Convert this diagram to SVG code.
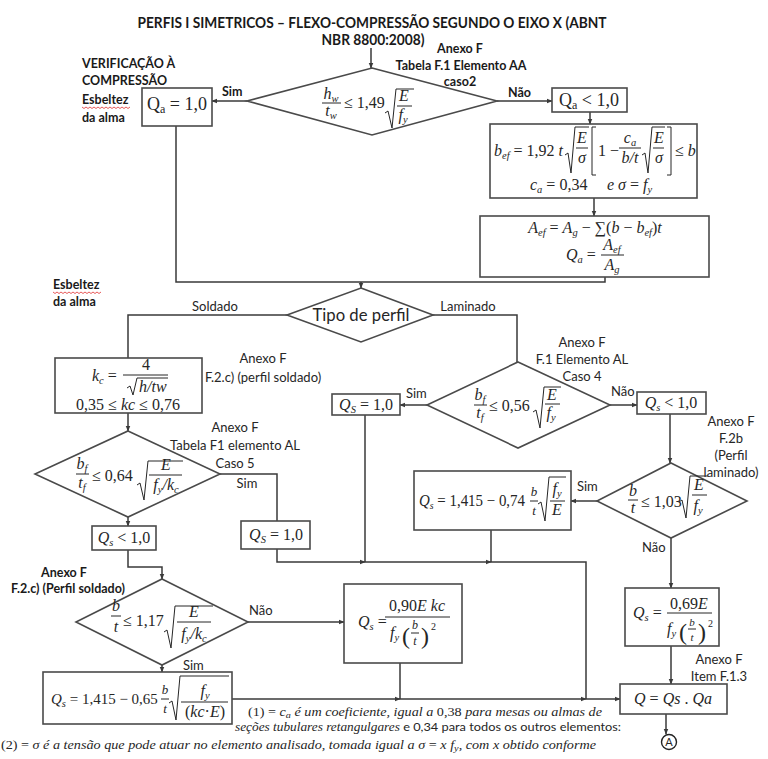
<svg xmlns="http://www.w3.org/2000/svg" width="768" height="759" viewBox="0 0 768 759">
<defs>
<style>
.bx{fill:#fff;stroke:#4a4a4a;stroke-width:1.6}
.cn{fill:none;stroke:#3a3a3a;stroke-width:1.5}
.ca{fill:none;stroke:#3a3a3a;stroke-width:1.5;marker-end:url(#ah)}
.ml{fill:none;stroke:#262626;stroke-width:1}
.lb{font-family:Lato,"Liberation Sans",sans-serif;font-size:13px;fill:#262626}
.lbb{font-family:Lato,"Liberation Sans",sans-serif;font-size:12.5px;font-weight:700;fill:#1a1a1a}
.mi{font-family:"Liberation Serif",serif;font-style:italic;font-size:16px;fill:#262626}
.mn{font-family:"Liberation Serif",serif;font-size:16px;fill:#262626}
.s{font-size:10.5px}
.fn{font-family:"Liberation Serif",serif;font-style:italic;font-size:12.5px;fill:#262626}
.up{font-style:normal}
.sq{fill:none;stroke:#e03030;stroke-width:0.8}
</style>
<marker id="ah" viewBox="0 0 10 10" refX="9" refY="5" markerWidth="6" markerHeight="6" orient="auto" markerUnits="userSpaceOnUse"><path d="M0,1 L10,5 L0,9 z" fill="#3a3a3a"/></marker>
</defs>
<rect width="768" height="759" fill="#fff"/>

<g id="title">
<text class="lbb" x="372" y="28" text-anchor="middle" style="font-size:15px" textLength="469" lengthAdjust="spacingAndGlyphs">PERFIS I SIMETRICOS – FLEXO-COMPRESSÃO SEGUNDO O EIXO X (ABNT</text>
<text class="lbb" x="373" y="45" text-anchor="middle" style="font-size:15px" textLength="103" lengthAdjust="spacingAndGlyphs">NBR 8800:2008)</text>
</g>

<g id="connectors">
<line class="ca" x1="371" y1="48" x2="371" y2="68"/>
<line class="ca" x1="247" y1="101" x2="212" y2="101"/>
<line class="ca" x1="497" y1="101" x2="552" y2="101"/>
<line class="ca" x1="590" y1="112" x2="590" y2="124"/>
<line class="ca" x1="594" y1="198" x2="594" y2="216"/>
<polyline class="cn" points="176,126 176,282 605,282 605,277"/>
<line class="ca" x1="361" y1="282" x2="361" y2="288"/>
<polyline class="cn" points="287,315 128,315 128,358"/>
<polyline class="cn" points="433,315 517,315 517,362"/>
<line class="ca" x1="427" y1="405" x2="400" y2="405"/>
<line class="ca" x1="610" y1="405" x2="637" y2="405"/>
<line class="ca" x1="670" y1="414" x2="670" y2="463"/>
<line class="ca" x1="597" y1="501" x2="571" y2="501"/>
<line class="ca" x1="671" y1="538" x2="671" y2="588"/>
<line class="ca" x1="671" y1="646" x2="671" y2="684"/>
<line class="ca" x1="666" y1="714" x2="666" y2="734"/>
<line class="ca" x1="128" y1="413" x2="128" y2="431"/>
<polyline class="cn" points="220,474 277,474 277,521"/>
<line class="ca" x1="128" y1="517" x2="128" y2="526"/>
<polyline class="ca" points="128,550 128,567 162,567 162,579"/>
<line class="ca" x1="248" y1="622" x2="344" y2="622"/>
<line class="ca" x1="162" y1="665" x2="162" y2="672"/>
<line class="cn" x1="365" y1="415" x2="365" y2="562"/>
<line class="cn" x1="491" y1="530" x2="491" y2="562"/>
<polyline class="ca" points="277,549 277,562 365,562"/>
<line class="ca" x1="365" y1="562" x2="491" y2="562"/>
<polyline class="cn" points="491,562 586,562 586,699"/>
<line class="cn" x1="400" y1="663" x2="400" y2="699"/>
<line class="ca" x1="232" y1="699" x2="400" y2="699"/>
<line class="ca" x1="400" y1="699" x2="586" y2="699"/>
<line class="ca" x1="586" y1="699" x2="620" y2="699"/>
</g>

<g id="side-labels">
<text class="lbb" x="82" y="68">VERIFICAÇÃO À</text>
<text class="lbb" x="82" y="85">COMPRESSÃO</text>
<text class="lbb" x="82" y="104">Esbeltez</text>
<path class="sq" d="M82,107 l2,1.5 l2,-1.5 l2,1.5 l2,-1.5 l2,1.5 l2,-1.5 l2,1.5 l2,-1.5 l2,1.5 l2,-1.5 l2,1.5 l2,-1.5 l2,1.5 l2,-1.5 l2,1.5 l2,-1.5 l2,1.5 l2,-1.5 l2,1.5 l2,-1.5 l2,1.5 l2,-1.5 l2,1.5 l2,-1.5"/>
<text class="lbb" x="82" y="122">da alma</text>
<text class="lbb" x="53" y="289">Esbeltez</text>
<path class="sq" d="M53,292 l2,1.5 l2,-1.5 l2,1.5 l2,-1.5 l2,1.5 l2,-1.5 l2,1.5 l2,-1.5 l2,1.5 l2,-1.5 l2,1.5 l2,-1.5 l2,1.5 l2,-1.5 l2,1.5 l2,-1.5 l2,1.5 l2,-1.5 l2,1.5 l2,-1.5 l2,1.5 l2,-1.5 l2,1.5 l2,-1.5"/>
<text class="lbb" x="53" y="306">da alma</text>
</g>

<g id="d1">
<polygon class="bx" points="372,68 497,101 372,135 247,101"/>
<text class="mi" x="331" y="99" text-anchor="middle">h<tspan class="s" dy="3">w</tspan></text>
<line class="ml" x1="322" y1="103" x2="341" y2="103"/>
<text class="mi" x="331" y="116" text-anchor="middle">t<tspan class="s" dy="3">w</tspan></text>
<text class="mn" x="344" y="108">≤ 1,49</text>
<polyline class="ml" points="385,113 388,111 392,128 396,89 414,89"/>
<text class="mi" x="404" y="101" text-anchor="middle">E</text>
<line class="ml" x1="397" y1="106" x2="412" y2="106"/>
<text class="mi" x="403" y="120" text-anchor="middle">f<tspan class="s" dy="3">y</tspan></text>
</g>
<g id="d1-labels">
<text class="lbb" x="460" y="53" text-anchor="middle">Anexo F</text>
<text class="lbb" x="461" y="70" text-anchor="middle">Tabela F.1 Elemento AA</text>
<text class="lbb" x="460" y="86" text-anchor="middle">caso2</text>
<text class="lbb" x="222" y="96">Sim</text>
<text class="lbb" x="508" y="97">Não</text>
</g>

<g id="qa1">
<rect class="bx" x="142" y="88" width="70" height="38"/>
<text class="mn" x="177" y="110" text-anchor="middle" style="font-size:18px">Q<tspan font-size="12" dy="3">a</tspan><tspan dy="-3"> = 1,0</tspan></text>
</g>

<g id="qa2">
<rect class="bx" x="552" y="88" width="75" height="24"/>
<text class="mn" x="589" y="106" text-anchor="middle" style="font-size:18px">Q<tspan font-size="12" dy="3">a</tspan><tspan dy="-3"> &lt; 1,0</tspan></text>
</g>

<g id="bef">
<rect class="bx" x="490" y="124" width="207" height="74"/>
<text class="mi" x="494" y="156" textLength="69" lengthAdjust="spacingAndGlyphs">b<tspan class="s" dy="3">ef</tspan><tspan class="up" dy="-3"> = 1,92 </tspan>t</text>
<polyline class="ml" points="565,155 568,153 571,173 575,127 589,127"/>
<text class="mi" x="582" y="143" text-anchor="middle">E</text>
<line class="ml" x1="576" y1="148" x2="588" y2="148"/>
<text class="mi" x="582" y="163" text-anchor="middle">σ</text>
<polyline class="ml" points="596,127 592,127 592,175 596,175"/>
<text class="mn" x="598" y="156">1 −</text>
<text class="mi" x="630" y="143" text-anchor="middle">c<tspan class="s" dy="3">a</tspan></text>
<line class="ml" x1="619" y1="148" x2="641" y2="148"/>
<text class="mi" x="630" y="163" text-anchor="middle">b/t</text>
<polyline class="ml" points="642,155 645,153 648,173 652,127 665,127"/>
<text class="mi" x="659" y="143" text-anchor="middle">E</text>
<line class="ml" x1="653" y1="148" x2="664" y2="148"/>
<text class="mi" x="659" y="163" text-anchor="middle">σ</text>
<polyline class="ml" points="667,127 671,127 671,175 667,175"/>
<text class="mi" x="675" y="156"><tspan class="up">≤ </tspan>b</text>
<text class="mi" x="530" y="190">c<tspan class="s" dy="3">a</tspan><tspan class="up" dy="-3"> = 0,34</tspan></text>
<text class="mi" x="607" y="190">e σ <tspan class="up">=</tspan> f<tspan class="s" dy="3">y</tspan></text>
</g>

<g id="aef">
<rect class="bx" x="480" y="216" width="229" height="61"/>
<text class="mi" x="595" y="233" text-anchor="middle">A<tspan class="s" dy="3">ef</tspan><tspan class="up" dy="-3"> = </tspan>A<tspan class="s" dy="3">g</tspan><tspan class="up" dy="-3"> − ∑(</tspan>b<tspan class="up"> − </tspan>b<tspan class="s" dy="3">ef</tspan><tspan class="up" dy="-3">)</tspan>t</text>
<text class="mi" x="566" y="260">Q<tspan class="s" dy="3">a</tspan><tspan class="up" dy="-3"> =</tspan></text>
<text class="mi" x="612" y="250" text-anchor="middle">A<tspan class="s" dy="3">ef</tspan></text>
<line class="ml" x1="601" y1="255" x2="624" y2="255"/>
<text class="mi" x="612" y="270" text-anchor="middle">A<tspan class="s" dy="3">g</tspan></text>
</g>

<g id="tipo">
<polygon class="bx" points="361,288 433,315 361,342 287,315"/>
<text class="lb" x="361" y="321" text-anchor="middle" style="font-size:16.5px" textLength="97" lengthAdjust="spacingAndGlyphs">Tipo de perfil</text>
<text class="lb" x="215" y="311" text-anchor="middle">Soldado</text>
<text class="lb" x="468" y="311" text-anchor="middle">Laminado</text>
</g>

<g id="kc">
<rect class="bx" x="55" y="358" width="147" height="55"/>
<text class="mi" x="92" y="381">k<tspan class="s" dy="3">c</tspan><tspan class="up" dy="-3"> =</tspan></text>
<text class="mn" x="146" y="370" text-anchor="middle">4</text>
<line class="ml" x1="123" y1="375" x2="168" y2="375"/>
<polyline class="ml" points="127,388 130,386 133,395 137,378 168,378"/>
<text class="mi" x="139" y="392">h/tw</text>
<text class="mi" x="128" y="410" text-anchor="middle"><tspan class="up">0,35 ≤ </tspan>kc<tspan class="up"> ≤ 0,76</tspan></text>
<text class="lb" x="263" y="363" text-anchor="middle">Anexo F</text>
<text class="lb" x="263" y="382" text-anchor="middle">F.2.c) (perfil soldado)</text>
</g>

<g id="d5">
<polygon class="bx" points="128,431 220,474 128,517 35,474"/>
<text class="mi" x="82" y="469" text-anchor="middle">b<tspan class="s" dy="3">f</tspan></text>
<line class="ml" x1="76" y1="474" x2="89" y2="474"/>
<text class="mi" x="82" y="488" text-anchor="middle">t<tspan class="s" dy="3">f</tspan></text>
<text class="mn" x="92" y="481">≤ 0,64</text>
<polyline class="ml" points="137,485 140,483 144,500 148,461 183,461"/>
<text class="mi" x="166" y="470" text-anchor="middle">E</text>
<line class="ml" x1="149" y1="475" x2="182" y2="475"/>
<text class="mi" x="166" y="490" text-anchor="middle">f<tspan class="s" dy="3">y</tspan><tspan dy="-3">/k</tspan><tspan class="s" dy="3">c</tspan></text>
<text class="lb" x="235" y="432" text-anchor="middle">Anexo F</text>
<text class="lb" x="235" y="450" text-anchor="middle">Tabela F1 elemento AL</text>
<text class="lb" x="235" y="468" text-anchor="middle">Caso 5</text>
<text class="lb" x="247" y="488" text-anchor="middle">Sim</text>
</g>

<g id="qs1a">
<rect class="bx" x="241" y="521" width="69" height="28"/>
<text class="mi" x="276" y="540" text-anchor="middle">Q<tspan class="s" dy="3">S</tspan><tspan class="up" dy="-3"> = 1,0</tspan></text>
</g>

<g id="qslt1">
<rect class="bx" x="92" y="526" width="64" height="24"/>
<text class="mi" x="124" y="543" text-anchor="middle">Q<tspan class="s" dy="3">s</tspan><tspan class="up" dy="-3"> &lt; 1,0</tspan></text>
</g>

<g id="d117">
<polygon class="bx" points="162,579 248,622 162,665 76,622"/>
<text class="mi" x="116" y="611" text-anchor="middle">b</text>
<line class="ml" x1="111" y1="616" x2="121" y2="616"/>
<text class="mi" x="116" y="632" text-anchor="middle">t</text>
<text class="mn" x="123" y="626">≤ 1,17</text>
<polyline class="ml" points="164,632 167,630 171,648 175,606 213,606"/>
<text class="mi" x="194" y="617" text-anchor="middle">E</text>
<line class="ml" x1="177" y1="622" x2="211" y2="622"/>
<text class="mi" x="194" y="639" text-anchor="middle">f<tspan class="s" dy="3">y</tspan><tspan dy="-3">/k</tspan><tspan class="s" dy="3">c</tspan></text>
<text class="lbb" x="64" y="577" text-anchor="middle">Anexo F</text>
<text class="lbb" x="68" y="593" text-anchor="middle">F.2.c) (Perfil soldado)</text>
<text class="lb" x="249" y="615">Não</text>
<text class="lb" x="183" y="670">Sim</text>
</g>

<g id="q090">
<rect class="bx" x="344" y="584" width="118" height="79"/>
<text class="mi" x="358" y="627">Q<tspan class="s" dy="3">s</tspan><tspan class="up" dy="-3"> =</tspan></text>
<text class="mi" x="417" y="611" text-anchor="middle"><tspan class="up">0,90</tspan>E kc</text>
<line class="ml" x1="385" y1="617" x2="450" y2="617"/>
<text class="mi" x="390" y="638">f<tspan class="s" dy="3">y</tspan></text>
<text class="mn" x="402" y="644" style="font-size:24px">(</text>
<text class="mi" x="415" y="629" style="font-size:12px" text-anchor="middle">b</text>
<line class="ml" x1="411" y1="633" x2="419" y2="633"/>
<text class="mi" x="415" y="645" style="font-size:12px" text-anchor="middle">t</text>
<text class="mn" x="421" y="644" style="font-size:24px">)</text>
<text class="mn" x="431" y="630" style="font-size:10px">2</text>
</g>

<g id="q165">
<rect class="bx" x="43" y="672" width="189" height="52"/>
<text class="mi" x="51" y="704" style="font-size:15px">Q<tspan class="s" dy="3">s</tspan><tspan class="up" dy="-3"> = 1,415 − 0,65</tspan></text>
<text class="mi" x="165" y="694" style="font-size:13px" text-anchor="middle">b</text>
<line class="ml" x1="161" y1="699" x2="169" y2="699"/>
<text class="mi" x="165" y="713" style="font-size:13px" text-anchor="middle">t</text>
<polyline class="ml" points="169,703 172,701 176,720 180,676 229,676"/>
<text class="mi" x="205" y="696" text-anchor="middle">f<tspan class="s" dy="3">y</tspan></text>
<line class="ml" x1="181" y1="702" x2="228" y2="702"/>
<text class="mi" x="205" y="717" text-anchor="middle"><tspan class="up">(</tspan>kc<tspan class="up">·</tspan>E<tspan class="up">)</tspan></text>
</g>

<g id="d4">
<polygon class="bx" points="518,362 610,405 518,448 427,405"/>
<text class="mi" x="480" y="400" text-anchor="middle">b<tspan class="s" dy="3">f</tspan></text>
<line class="ml" x1="474" y1="405" x2="487" y2="405"/>
<text class="mi" x="480" y="418" text-anchor="middle">t<tspan class="s" dy="3">f</tspan></text>
<text class="mn" x="489" y="411">≤ 0,56</text>
<polyline class="ml" points="533,412 536,410 540,428 544,387 561,387"/>
<text class="mi" x="552" y="400" text-anchor="middle">E</text>
<line class="ml" x1="545" y1="404" x2="560" y2="404"/>
<text class="mi" x="551" y="418" text-anchor="middle">f<tspan class="s" dy="3">y</tspan></text>
<text class="lb" x="582" y="347" text-anchor="middle">Anexo F</text>
<text class="lb" x="582" y="364" text-anchor="middle">F.1 Elemento AL</text>
<text class="lb" x="582" y="381" text-anchor="middle">Caso 4</text>
<text class="lb" x="406" y="398">Sim</text>
<text class="lb" x="611" y="396">Não</text>
</g>

<g id="qs1b">
<rect class="bx" x="332" y="394" width="68" height="21"/>
<text class="mi" x="366" y="410" text-anchor="middle">Q<tspan class="s" dy="3">S</tspan><tspan class="up" dy="-3"> = 1,0</tspan></text>
</g>

<g id="qslt2">
<rect class="bx" x="637" y="392" width="69" height="22"/>
<text class="mi" x="671" y="408" text-anchor="middle">Q<tspan class="s" dy="3">s</tspan><tspan class="up" dy="-3"> &lt; 1,0</tspan></text>
<text class="lb" x="731" y="426" text-anchor="middle">Anexo F</text>
<text class="lb" x="731" y="443" text-anchor="middle">F.2b</text>
<text class="lb" x="731" y="460" text-anchor="middle">(Perfil</text>
<text class="lb" x="731" y="477" text-anchor="middle">laminado)</text>
</g>

<g id="d103">
<polygon class="bx" points="671,463 747,501 671,538 597,501"/>
<text class="mi" x="633" y="496" text-anchor="middle">b</text>
<line class="ml" x1="628" y1="500" x2="638" y2="500"/>
<text class="mi" x="633" y="513" text-anchor="middle">t</text>
<text class="mn" x="641" y="507">≤ 1,03</text>
<polyline class="ml" points="679,502 682,500 686,518 690,476 708,476"/>
<text class="mi" x="699" y="490" text-anchor="middle">E</text>
<line class="ml" x1="692" y1="495" x2="707" y2="495"/>
<text class="mi" x="698" y="511" text-anchor="middle">f<tspan class="s" dy="3">y</tspan></text>
<text class="lb" x="577" y="491">Sim</text>
<text class="lb" x="642" y="552">Não</text>
</g>

<g id="q174">
<rect class="bx" x="414" y="471" width="157" height="59"/>
<text class="mi" x="419" y="506" textLength="106" lengthAdjust="spacingAndGlyphs">Q<tspan class="s" dy="3">s</tspan><tspan class="up" dy="-3"> = 1,415 − 0,74</tspan></text>
<text class="mi" x="534" y="496" style="font-size:13px" text-anchor="middle">b</text>
<line class="ml" x1="530" y1="501" x2="538" y2="501"/>
<text class="mi" x="534" y="515" style="font-size:13px" text-anchor="middle">t</text>
<polyline class="ml" points="538,504 541,502 545,521 549,477 566,477"/>
<text class="mi" x="557" y="494" text-anchor="middle">f<tspan class="s" dy="3">y</tspan></text>
<line class="ml" x1="550" y1="501" x2="565" y2="501"/>
<text class="mi" x="557" y="515" text-anchor="middle">E</text>
</g>

<g id="q069">
<rect class="bx" x="625" y="588" width="94" height="58"/>
<text class="mi" x="633" y="618">Q<tspan class="s" dy="3">s</tspan><tspan class="up" dy="-3"> =</tspan></text>
<text class="mi" x="689" y="609" text-anchor="middle"><tspan class="up">0,69</tspan>E</text>
<line class="ml" x1="667" y1="613" x2="712" y2="613"/>
<text class="mi" x="667" y="634">f<tspan class="s" dy="3">y</tspan></text>
<text class="mn" x="679" y="640" style="font-size:24px">(</text>
<text class="mi" x="692" y="626" style="font-size:11px" text-anchor="middle">b</text>
<line class="ml" x1="688" y1="629" x2="696" y2="629"/>
<text class="mi" x="692" y="641" style="font-size:11px" text-anchor="middle">t</text>
<text class="mn" x="698" y="640" style="font-size:24px">)</text>
<text class="mn" x="708" y="627" style="font-size:10px">2</text>
<text class="lb" x="719" y="664" text-anchor="middle">Anexo F</text>
<text class="lb" x="719" y="681" text-anchor="middle">Item F.1.3</text>
</g>

<g id="qq">
<rect class="bx" x="620" y="684" width="107" height="30"/>
<text class="mi" x="673" y="704" text-anchor="middle">Q <tspan class="up">=</tspan> Qs <tspan class="up">.</tspan> Qa</text>
</g>

<g id="endA">
<circle cx="669" cy="742" r="7.5" fill="#fff" stroke="#222" stroke-width="1.4"/>
<text class="lb" x="669" y="746" text-anchor="middle" style="font-size:11px">A</text>
</g>

<g id="notes">
<text class="fn" x="248" y="716" textLength="354" lengthAdjust="spacingAndGlyphs"><tspan class="up">(1) = </tspan>c<tspan font-size="9" dy="2">a</tspan><tspan dy="-2"> é um coeficiente, igual a </tspan><tspan class="up">0,38</tspan> para mesas ou almas de</text>
<text class="fn" x="235" y="731" textLength="386" lengthAdjust="spacingAndGlyphs">seções tubulares retangulgares<tspan class="up" font-family="Lato, sans-serif" font-size="12"> e 0,34 para todos os outros elementos:</tspan></text>
<text class="fn" x="1" y="749" textLength="595" lengthAdjust="spacingAndGlyphs"><tspan class="up">(2) = </tspan>σ é a tensão que pode atuar no elemento analisado, tomada igual a σ <tspan class="up">=</tspan> x f<tspan font-size="9" dy="2">y</tspan><tspan dy="-2">, com x obtido conforme</tspan></text>
</g>
</svg>
